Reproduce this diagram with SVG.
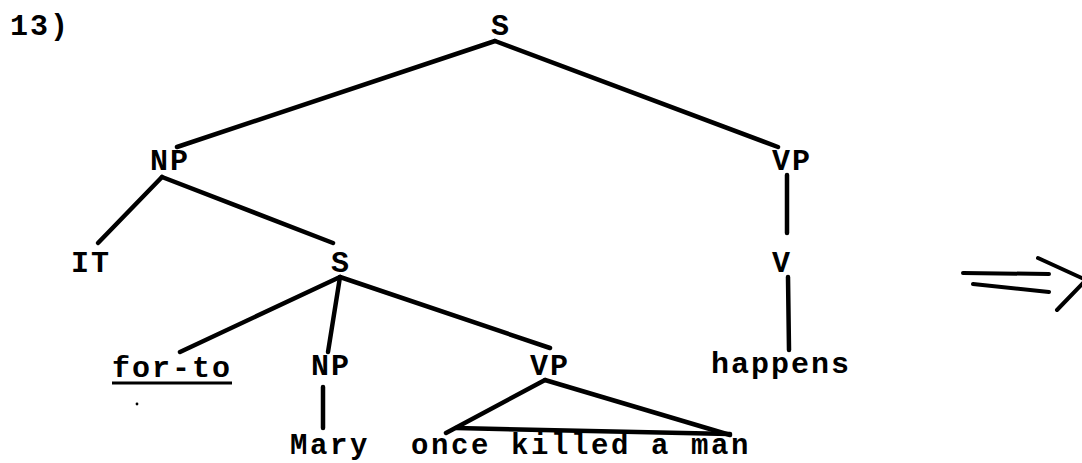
<svg xmlns="http://www.w3.org/2000/svg" width="1082" height="463" viewBox="0 0 1082 463">
  <style>
    .lbl { font-family: "Liberation Mono", "DejaVu Sans Mono", monospace; font-size: 30px; font-weight: bold; letter-spacing: 2px; fill: #000; }
    .low { font-size: 29px; letter-spacing: 2.6px; }
    .edge { stroke: #000; stroke-width: 4.5; stroke-linecap: round; fill: none; }
    .arr { stroke: #000; stroke-width: 4; stroke-linecap: round; fill: none; }
  </style>
  <rect x="0" y="0" width="1082" height="463" fill="#fff"/>

  <g id="number"><text class="lbl" x="10" y="35">13)</text></g>

  <g id="connectors">
    <line class="edge" x1="495" y1="41" x2="177" y2="147"/>
    <line class="edge" x1="495" y1="41" x2="778" y2="147"/>
    <line class="edge" x1="162" y1="177" x2="98" y2="243"/>
    <line class="edge" x1="162" y1="177" x2="333" y2="243"/>
    <line class="edge" x1="787" y1="175" x2="787" y2="233"/>
    <line class="edge" x1="788" y1="277" x2="789" y2="350"/>
    <line class="edge" x1="340" y1="277" x2="180" y2="352"/>
    <line class="edge" x1="340" y1="277" x2="328" y2="352"/>
    <line class="edge" x1="340" y1="277" x2="550" y2="348"/>
    <line class="edge" x1="323" y1="387" x2="323" y2="428"/>
    <line class="edge" x1="545" y1="380" x2="446" y2="433"/>
    <line class="edge" x1="545" y1="380" x2="730" y2="435"/>
    <line class="edge" x1="456" y1="428" x2="730" y2="434"/>
  </g>

  <g id="n-S-top"><text class="lbl" x="491" y="35">S</text></g>
  <g id="n-NP-top"><text class="lbl" x="150" y="170">NP</text></g>
  <g id="n-VP-top"><text class="lbl" x="772" y="170">VP</text></g>
  <g id="n-IT"><text class="lbl" x="71" y="272">IT</text></g>
  <g id="n-S-inner"><text class="lbl" x="331" y="272">S</text></g>
  <g id="n-V"><text class="lbl" x="772" y="272">V</text></g>
  <g id="n-for-to">
    <text class="lbl" x="112" y="377">for-to</text>
    <line x1="112" y1="383" x2="232" y2="383" stroke="#000" stroke-width="3"/>
  </g>
  <g id="n-NP-low"><text class="lbl" x="311" y="375">NP</text></g>
  <g id="n-VP-low"><text class="lbl" x="530" y="375">VP</text></g>
  <g id="n-happens"><text class="lbl" x="711" y="373">happens</text></g>
  <g id="n-Mary"><text class="lbl low" x="290" y="454">Mary</text></g>
  <g id="n-once"><text class="lbl low" x="411" y="454">once killed a man</text></g>

  <circle cx="137" cy="404" r="1.4" fill="#000"/>

  <g id="arrow">
    <line class="arr" x1="963" y1="273" x2="1049" y2="274"/>
    <line class="arr" x1="973" y1="284" x2="1049" y2="292"/>
    <polyline class="arr" points="1038,258 1086,280 1057,310"/>
  </g>
</svg>
